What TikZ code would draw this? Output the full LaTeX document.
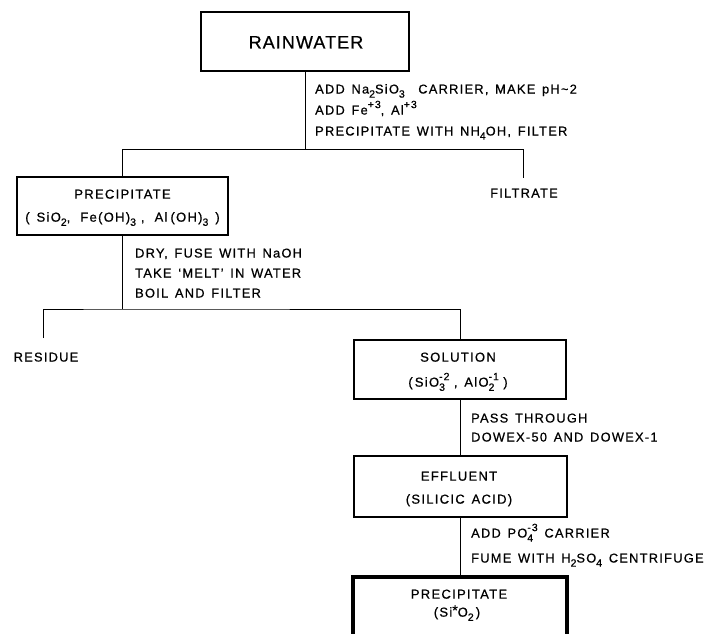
\documentclass[tikz,border=0pt]{standalone}
\usepackage{fontspec}
\setmainfont{Liberation Sans}
\newfontfamily\annfam[LetterSpace=10, WordSpace=1.7, FakeBold=0.7]{Liberation Sans}
\newfontfamily\boxfam[LetterSpace=10, WordSpace=1.4, FakeBold=0.7]{Liberation Sans}
\newfontfamily\titfam[LetterSpace=6, FakeBold=0.6]{Liberation Sans}
\newcommand\mylo[1]{\raisebox{-0.32em}{\fontsize{10.5}{11}\selectfont #1}}
\newcommand\myhi[1]{\raisebox{0.5em}{\fontsize{10.5}{11}\selectfont #1}}
\newcommand\mylohi[2]{\rlap{\mylo{#1}}\myhi{#2}}
\tikzset{
  box/.style={draw, line width=1.6pt, inner sep=0pt},
  finbox/.style={draw, line width=3.6pt, inner sep=0pt},
  conn/.style={line width=1pt},
  ann/.style={anchor=west, inner sep=0pt, text height=9pt, text depth=0pt,
    font=\annfam\fontsize{12.8}{14}\selectfont},
  boxtxt/.style={anchor=center, inner sep=0pt, text height=9.3pt, text depth=0pt,
    font=\boxfam\fontsize{13}{15}\selectfont},
  tittxt/.style={anchor=center, inner sep=0pt, text height=12.9pt, text depth=0pt,
    font=\titfam\fontsize{18}{20}\selectfont},
  endtxt/.style={anchor=center, inner sep=0pt, text height=9pt, text depth=0pt,
    font=\annfam\fontsize{12.8}{14}\selectfont}
}
\begin{document}
\begin{tikzpicture}[x=1pt,y=-1pt]
\useasboundingbox (0,0) rectangle (707,633);
\clip (0,0) rectangle (707,633);
\fill[white] (0,0) rectangle (707,633);

% boxes
\node[box, minimum width=208pt, minimum height=59pt] (rain) at (305,41.5) {};
\node[tittxt] (raint) at (306,42) {RAINWATER};

\node[box, minimum width=211pt, minimum height=58pt] (p1) at (122.5,206) {};
\node[boxtxt] (p1a) at (122.5,194) {PRECIPITATE};
\node[boxtxt] (p1b) at (122.5,217) {(\hspace{7pt}SiO\mylo{2},\hspace{10pt}Fe(OH)\mylo{3}\hspace{5pt},\hspace{10pt}Al\hspace{3pt}(OH)\mylo{3}\hspace{7pt})};

\node[box, minimum width=212pt, minimum height=59pt] (sol) at (460,369.5) {};
\node[boxtxt] (sola) at (458,357) {SOLUTION};
\node[boxtxt] (solb) at (458,382) {(\,SiO\mylohi{3}{-2}\,\,, AlO\mylohi{2}{-1}\,\,)};

\node[box, minimum width=213pt, minimum height=61pt] (eff) at (460.5,486.5) {};
\node[boxtxt] (effa) at (459,476) {EFFLUENT};
\node[boxtxt] (effb) at (459,499) {(SILICIC ACID)};

\node[finbox, minimum width=214pt, minimum height=90pt] (fin) at (460,622) {};
\node[boxtxt] (fina) at (459,594) {PRECIPITATE};
\node[boxtxt] (finb) at (457,612) {(Si\raisebox{0.12em}{\fontsize{14}{14}\selectfont *}O\mylo{2}\,)};

% end labels
\node[endtxt] (filt) at (524,193) {FILTRATE};
\node[endtxt] (resid) at (46,357) {RESIDUE};

% junction coordinates
\coordinate (j1) at (305,149);
\coordinate (fj) at (523,149);
\coordinate (fend) at (523,178);
\coordinate (j2) at (122.5,309);
\coordinate (rend) at (43,338);

% connectors
\draw[conn] (rain.south) -- (j1);
\draw[conn] (p1.north) |- (fj) -- (fend);
\draw[conn] (p1.south) -- (j2);
\draw[conn] (rend) |- (j2) -| (sol.north);
\draw[conn] (sol.south) -- (sol.south |- eff.north);
\draw[conn] (eff.south) -- (eff.south |- fin.north);

% annotations
\node[ann] (a1a) at (315,89) {ADD Na\mylo{2}SiO\mylo{3}\ \ CARRIER, MAKE pH\textasciitilde 2};
\node[ann] (a1b) at (315,110) {ADD Fe\myhi{+3}, Al\myhi{+3}};
\node[ann] (a1c) at (315,131) {PRECIPITATE WITH NH\mylo{4}OH, FILTER};

\node[ann] (a2a) at (135,253) {DRY, FUSE WITH NaOH};
\node[ann] (a2b) at (135,273) {TAKE ‘MELT’ IN WATER};
\node[ann] (a2c) at (135,293) {BOIL AND FILTER};

\node[ann] (a3a) at (471,418) {PASS THROUGH};
\node[ann] (a3b) at (471,437) {DOWEX-50 AND DOWEX-1};

\node[ann] (a4a) at (471,533) {ADD PO\mylohi{4}{-3} CARRIER};
\node[ann] (a4b) at (471,558) {FUME WITH H\mylo{2}SO\mylo{4} CENTRIFUGE};
\end{tikzpicture}
\end{document}
